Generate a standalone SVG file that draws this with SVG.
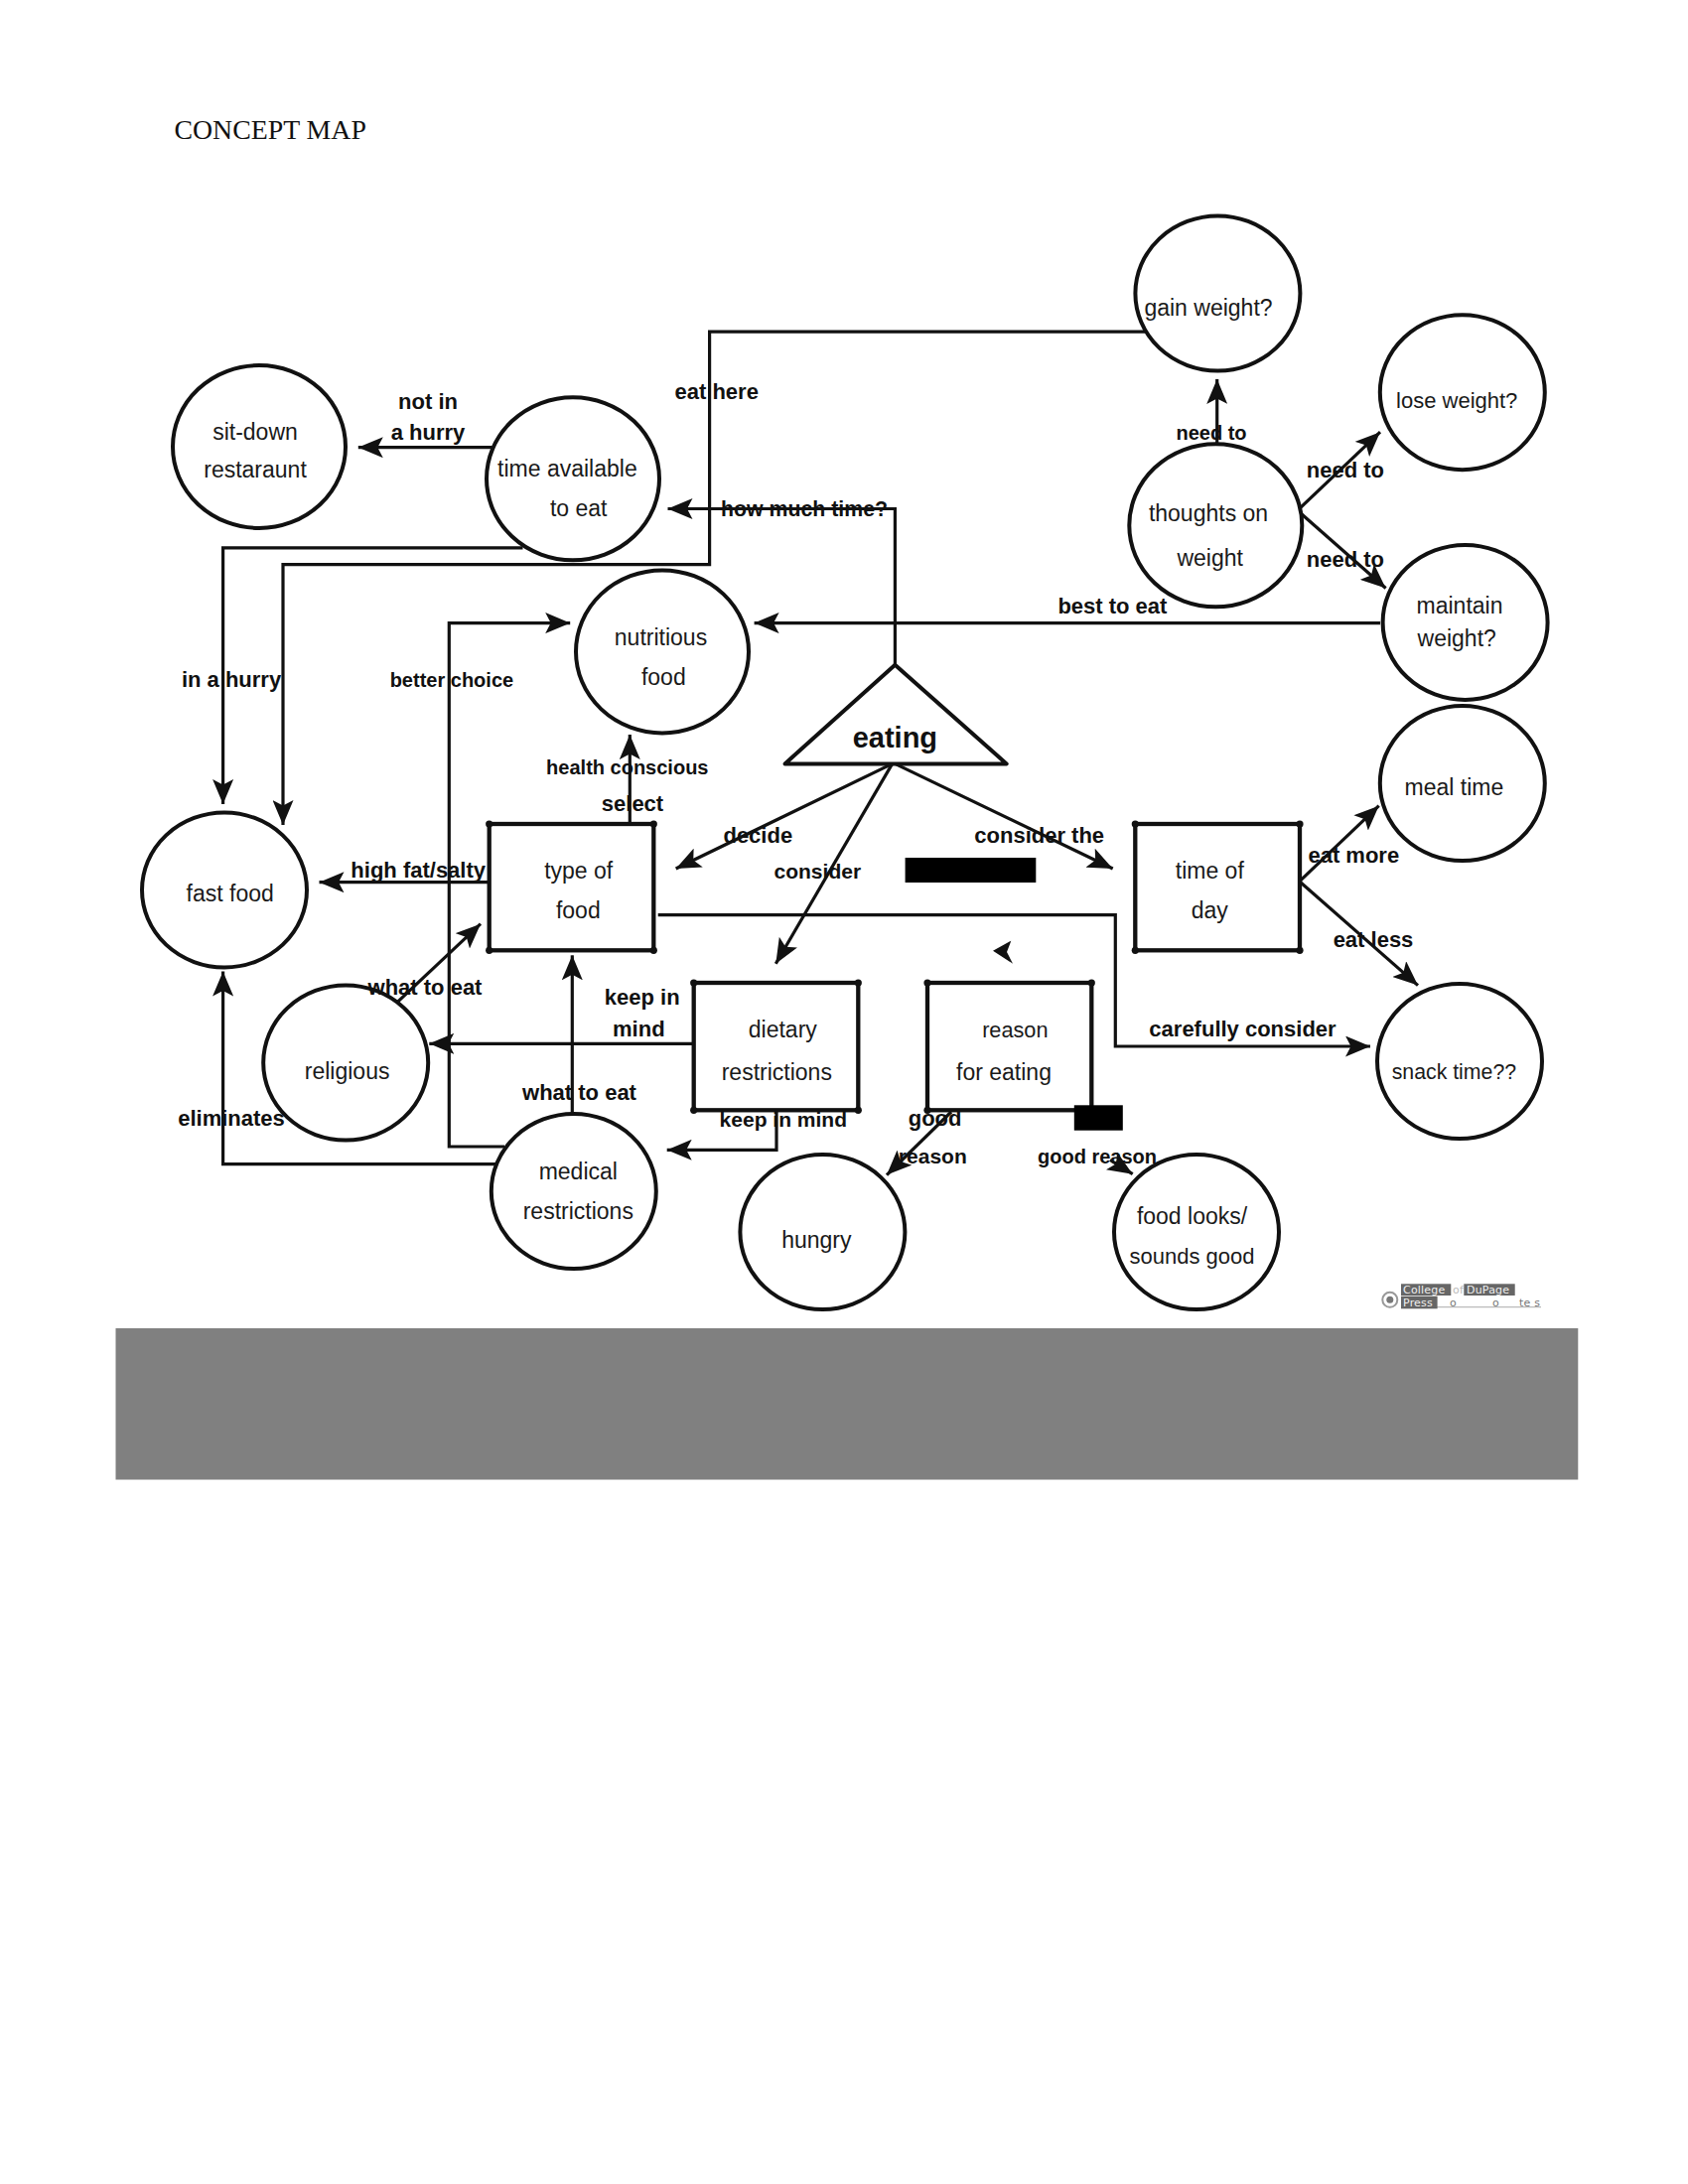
<svg xmlns="http://www.w3.org/2000/svg" width="1700" height="2200" viewBox="0 0 1700 2200">
<style>
.bg{fill:#fff}
.c{fill:#fff;stroke:#111;stroke-width:4}
.r{fill:#fff;stroke:#111;stroke-width:4.3}
.t{fill:#fff;stroke:#111;stroke-width:4;stroke-linejoin:round}
.d{fill:#111}
.n{font-family:"Liberation Sans",Arial,sans-serif;font-size:23px;fill:#1a1a1a;text-anchor:middle}
.l{font-family:"Liberation Sans",Arial,sans-serif;font-size:22px;font-weight:bold;fill:#111;text-anchor:middle}
.s{font-size:20px}
.m{font-size:21px}
.w{fill:none;stroke:#111;stroke-width:3.2;marker-end:url(#a)}
.f{font-family:"DejaVu Sans",sans-serif;font-size:11px;letter-spacing:.2px}
</style>
<defs>
<marker id="a" markerUnits="userSpaceOnUse" markerWidth="25" markerHeight="21" refX="25" refY="10.5" orient="auto">
<path d="M25 10.5 L0 0 L5.5 10.5 L0 21 Z" fill="#111"/>
</marker>
</defs>
<rect class="bg" width="1700" height="2200"/>
<text x="175.5" y="140.2" font-family="Liberation Serif,Times New Roman,serif" font-size="27.8" fill="#111">CONCEPT MAP</text>
<g id="connectors">
<path class="w" d="M1154 334.2H714.6V568.6H285V831"/>
<path class="w" d="M526.5 551.8H224.6V810"/>
<path class="w" d="M495.6 450.7H360.8"/>
<path class="w" d="M901.4 669.7V512.5H672.5"/>
<path class="w" d="M1390 627.6H759.6"/>
<path class="w" d="M508 1155H452.3V627.6H574.2"/>
<path class="w" d="M634.3 830V740"/>
<path class="w" d="M492.7 888.7H321.5"/>
<path class="w" d="M398.7 1010.9L484 930.7"/>
<path class="w" d="M698.7 1051.3H432.3"/>
<path class="w" d="M576.3 1121.7V962.3"/>
<path class="w" d="M782 1118V1158.3H671.7"/>
<path class="w" d="M502.6 1172.7H224.6V978.6"/>
<path class="w" d="M898.6 769.4L680.7 875"/>
<path class="w" d="M898.6 769.4L781.3 970.7"/>
<path class="w" d="M901.4 769.4L1120.7 875"/>
<path class="w" d="M662.7 921.7H1123.3V1054H1380"/>
<path class="w" d="M1225.7 447.9V381.9"/>
<path class="w" d="M1308.5 512.5L1390 435.2"/>
<path class="w" d="M1311 518L1395.6 592.5"/>
<path class="w" d="M1310 886.7L1388.7 811.7"/>
<path class="w" d="M1310 889L1428 992.6"/>
<path class="w" d="M958 1120L893 1183.6"/>
<path class="w" d="M1118 1168.5L1140.7 1182.7"/>
<path class="d" d="M1000 957.7L1018.3 947.7L1014 959L1020 970.7Z"/>
</g>
<g id="sit-down"><ellipse class="c" cx="261" cy="450" rx="87" ry="82"/><text class="n" x="257" y="442.8">sit-down</text><text class="n" x="257" y="480.8">restaraunt</text></g>
<g id="time-available"><ellipse class="c" cx="577" cy="482.3" rx="87" ry="82"/><text class="n" x="571.4" y="480.4">time available</text><text class="n" x="582.7" y="520">to eat</text></g>
<g id="nutritious"><ellipse class="c" cx="667" cy="656.4" rx="87" ry="82"/><text class="n" x="665.5" y="650.3">nutritious</text><text class="n" x="668.3" y="690.3">food</text></g>
<g id="gain-weight"><ellipse class="c" cx="1226.4" cy="295.5" rx="83" ry="78"/><text class="n" x="1217" y="318.2">gain weight?</text></g>
<g id="lose-weight"><ellipse class="c" cx="1472.8" cy="395.2" rx="83" ry="78"/><text class="n" x="1467.2" y="410.8" style="font-size:22px">lose weight?</text></g>
<g id="thoughts"><ellipse class="c" cx="1224.3" cy="529.3" rx="87" ry="82"/><text class="n" x="1217" y="525.3">thoughts on</text><text class="n" x="1218.7" y="570">weight</text></g>
<g id="maintain"><ellipse class="c" cx="1475.6" cy="626.9" rx="83" ry="78"/><text class="n" x="1470" y="617.8">maintain</text><text class="n" x="1467.2" y="651">weight?</text></g>
<g id="meal-time"><ellipse class="c" cx="1472.8" cy="789" rx="83" ry="78"/><text class="n" x="1464.4" y="801.2">meal time</text></g>
<g id="fast-food"><ellipse class="c" cx="226" cy="896.5" rx="83" ry="78"/><text class="n" x="231.7" y="908.4">fast food</text></g>
<g id="religious"><ellipse class="c" cx="348.2" cy="1070.5" rx="83" ry="78"/><text class="n" x="349.6" y="1087.2">religious</text></g>
<g id="medical"><ellipse class="c" cx="577.8" cy="1200" rx="83" ry="78"/><text class="n" x="582.3" y="1188">medical</text><text class="n" x="582.3" y="1227.8">restrictions</text></g>
<g id="hungry"><ellipse class="c" cx="828.4" cy="1241" rx="83" ry="78"/><text class="n" x="822.3" y="1256.5">hungry</text></g>
<g id="food-looks"><ellipse class="c" cx="1205" cy="1241" rx="83" ry="78"/><text class="n" x="1200.5" y="1232.7">food looks/</text><text class="n" x="1200.5" y="1273.3" style="font-size:22px">sounds good</text></g>
<g id="snack-time"><ellipse class="c" cx="1470" cy="1069" rx="83" ry="78"/><text class="n" x="1464.4" y="1087" style="font-size:21.3px">snack time??</text></g>
<g id="eating"><path class="t" d="M901.4 669.7L1013.7 769.4H790.5Z"/><text x="901.4" y="752.8" text-anchor="middle" font-family="Liberation Sans,Arial,sans-serif" font-size="29" font-weight="bold" fill="#111">eating</text></g>
<g id="type-of-food"><rect class="r" x="492.7" y="830" width="165.6" height="127.3"/><circle class="d" cx="492.7" cy="830" r="3.6"/><circle class="d" cx="658.3" cy="830" r="3.6"/><circle class="d" cx="492.7" cy="957.3" r="3.6"/><circle class="d" cx="658.3" cy="957.3" r="3.6"/><text class="n" x="582.7" y="885.2">type of</text><text class="n" x="582.3" y="924.5">food</text></g>
<g id="time-of-day"><rect class="r" x="1143.3" y="830" width="165.7" height="127.3"/><circle class="d" cx="1143.3" cy="830" r="3.6"/><circle class="d" cx="1309" cy="830" r="3.6"/><circle class="d" cx="1143.3" cy="957.3" r="3.6"/><circle class="d" cx="1309" cy="957.3" r="3.6"/><text class="n" x="1218.3" y="885.2">time of</text><text class="n" x="1218.3" y="925">day</text></g>
<g id="dietary"><rect class="r" x="698.7" y="990" width="165.6" height="128.3"/><circle class="d" cx="698.7" cy="990" r="3.6"/><circle class="d" cx="864.3" cy="990" r="3.6"/><circle class="d" cx="698.7" cy="1118.3" r="3.6"/><circle class="d" cx="864.3" cy="1118.3" r="3.6"/><text class="n" x="788.3" y="1045">dietary</text><text class="n" x="782.3" y="1087.5">restrictions</text></g>
<g id="reason"><rect class="r" x="934" y="990" width="165.3" height="128.3"/><circle class="d" cx="934" cy="990" r="3.6"/><circle class="d" cx="1099.3" cy="990" r="3.6"/><circle class="d" cx="934" cy="1118.3" r="3.6"/><text class="n" x="1022.3" y="1045" style="font-size:21.7px">reason</text><text class="n" x="1011" y="1087.5">for eating</text></g>
<g id="redactions"><rect x="911.6" y="864" width="131.7" height="25" fill="#000"/><rect x="1081.8" y="1113.3" width="49" height="25.4" fill="#000"/><rect x="116.5" y="1338" width="1472.8" height="152.5" fill="#808080"/></g>
<g id="labels">
<text class="l" x="431" y="411.6">not in</text><text class="l" x="431" y="442.6">a hurry</text>
<text class="l" x="721.7" y="401.8">eat here</text>
<text class="l" x="810" y="520.2" style="font-size:21.3px">how much time?</text>
<text class="l s" x="1220" y="443">need to</text>
<text class="l" x="1354.9" y="481">need to</text>
<text class="l" x="1354.9" y="570.8">need to</text>
<text class="l" x="1120.4" y="617.8">best to eat</text>
<text class="l" x="233" y="691.6">in a hurry</text>
<text class="l s" x="454.9" y="691.8">better choice</text>
<text class="l s" x="631.8" y="780">health conscious</text>
<text class="l" x="637" y="816.7">select</text>
<text class="l" x="763.3" y="849">decide</text>
<text class="l m" x="823.3" y="885">consider</text>
<text class="l" x="1046.7" y="849">consider the</text>
<text class="l" x="421.2" y="884.3">high fat/salty</text>
<text class="l" x="1363.3" y="869">eat more</text>
<text class="l" x="1383" y="953.5">eat less</text>
<text class="l" x="428" y="1001.7">what to eat</text>
<text class="l" x="646.7" y="1012">keep in</text><text class="l" x="643.3" y="1044.3">mind</text>
<text class="l" x="1251.5" y="1044.3">carefully consider</text>
<text class="l" x="583.5" y="1107.8">what to eat</text>
<text class="l m" x="788.8" y="1134.5">keep in mind</text>
<text class="l" x="941.6" y="1133.8">good</text><text class="l m" x="939.3" y="1172.3">reason</text>
<text class="l s" x="1105" y="1171.7">good reason</text>
<text class="l" x="233" y="1134.4">eliminates</text>
</g>
<g id="logo">
<circle cx="1399.8" cy="1309.3" r="7.5" fill="none" stroke="#999" stroke-width="2"/><circle cx="1399.8" cy="1309.3" r="3.5" fill="#777"/>
<path d="M1447 1316.7H1552" stroke="#aaa" stroke-width="1" fill="none"/>
<rect x="1411" y="1293.3" width="50.3" height="11.7" fill="#666"/><rect x="1474.3" y="1293.3" width="51.4" height="11.7" fill="#666"/><rect x="1411" y="1305.7" width="36.6" height="12.6" fill="#666"/>
<text class="f" x="1413" y="1303.3" fill="#eee">College</text>
<text class="f" x="1463" y="1303.3" fill="#bbb">of</text>
<text class="f" x="1477" y="1303.3" fill="#eee">DuPage</text>
<text class="f" x="1413" y="1316" fill="#eee">Press</text>
<text class="f" x="1460" y="1316" fill="#777">o</text>
<text class="f" x="1503" y="1316" fill="#777">o</text>
<text class="f" x="1530" y="1316" fill="#777">te s</text>
</g>
</svg>
